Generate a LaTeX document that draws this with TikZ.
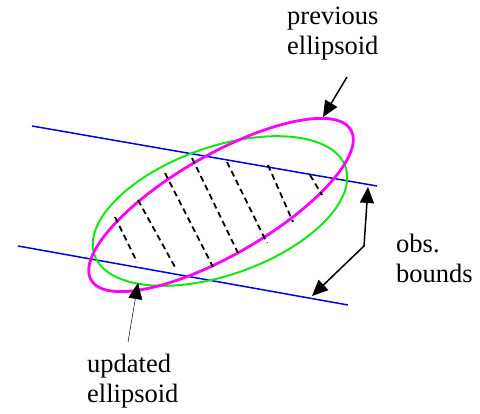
\documentclass[tikz,border=0pt]{standalone}
\usepackage{fontspec}
\setmainfont{Liberation Serif}
\usetikzlibrary{arrows.meta}
\definecolor{prevmag}{RGB}{255,0,255}
\definecolor{updgreen}{RGB}{20,230,20}
\definecolor{bndblue}{RGB}{0,0,225}

\begin{document}
\begin{tikzpicture}[
    x=1pt, y=-1pt, >={Triangle[length=16pt, width=14pt]},
    bound/.style={draw=bndblue, line width=1.5pt},
    annot/.style={font=\fontsize{26.5}{30}\selectfont, align=left,
                  anchor=base west, inner sep=0pt},
    pointer/.style={->, line width=1.5pt}
  ]
  \useasboundingbox (0,0) rectangle (480,414);

  % observation bounds
  \draw[bound] (32,126) -- (377,186);
  \draw[bound] (18,246) -- (348,305);

  % ellipsoids
  \draw[updgreen, line width=2pt, rotate around={19.4:(220,211)}]
    (220,211) ellipse [x radius=133pt, y radius=64pt];
  \draw[prevmag, line width=2.8pt, rotate around={30:(221,205)}]
    (221,205) ellipse [x radius=150pt, y radius=50pt];

  % hatching of the feasible part
  \foreach \xa/\ya/\xb/\yb in {115/217/137/262, 138/200/175/267,
      165/173/213/267, 192/158/238/253, 227/162/267/243,
      268/165/293/222, 310/175/322/195}
    \draw[dash pattern=on 6pt off 4pt, line width=1.8pt]
      (\xa,\ya) -- (\xb,\yb);

  % labels (base = last line)
  \node[annot] (prevlbl) at (287,55) {previous\\ellipsoid};
  \node[annot] (obslbl) at (396,283) {obs.\\bounds};
  \node[annot] (updlbl) at (87,403) {updated\\ellipsoid};

  \coordinate (prevtail) at (347,77);
  \coordinate (prevtip) at (323,117);
  \coordinate (obstop) at (368,187);
  \coordinate (obsknee) at (364,246);
  \coordinate (obsbot) at (312,296);
  \coordinate (updtail) at (128,342);
  \coordinate (updtip) at (138,283);

  \draw[pointer] (prevtail) -- (prevtip);
  \draw[pointer, <->] (obstop) -- (obsknee) -- (obsbot);
  \draw[->, line width=0.5pt] (updtail) -- (updtip);
\end{tikzpicture}
\end{document}
